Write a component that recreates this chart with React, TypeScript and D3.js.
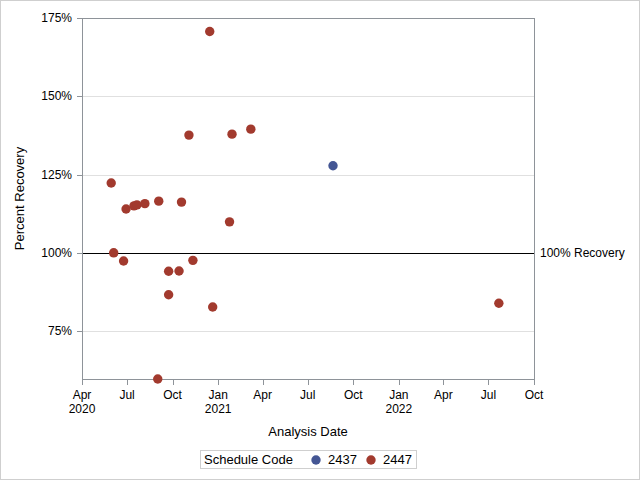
import React from "react";
import * as d3 from "d3";

const dates2447 = [
  "2020-05-30", "2020-06-04", "2020-06-24", "2020-06-29", "2020-07-15", "2020-07-21",
  "2020-08-06", "2020-09-01", "2020-09-03", "2020-09-23", "2020-09-23", "2020-10-14",
  "2020-10-19", "2020-11-03", "2020-11-11", "2020-12-15", "2020-12-21", "2021-01-24",
  "2021-01-29", "2021-03-08", "2022-07-22",
];
const values2447 = [
  122.3, 100.0, 97.4, 114.0, 115.0, 115.3,
  115.7, 59.7, 116.5, 94.1, 86.6, 94.2,
  116.2, 137.6, 97.6, 170.7, 82.7, 109.9,
  137.9, 139.5, 83.9,
];
const dates2437 = ["2021-08-21"];
const values2437 = [127.8];

const scheduleCodes = ["2437", "2447"];
const codeColors = ["#445694", "#A23A2E"];
const yTicks = [75, 100, 125, 150, 175];
const monthNames = ["Jan", "Feb", "Mar", "Apr", "May", "Jun", "Jul", "Aug", "Sep", "Oct", "Nov", "Dec"];
const refValue = 100;
const refLabel = "100% Recovery";

const W = 640, H = 480;
const L = 82, R = 534, T = 18, B = 379;
const FONT = "'Liberation Sans', Arial, sans-serif";

export default function App() {
  const parse = d3.timeParse("%Y-%m-%d");
  const series = [
    { code: scheduleCodes[0], color: codeColors[0], pts: dates2437.map((d, i) => ({ d: parse(d)!, v: values2437[i] })) },
    { code: scheduleCodes[1], color: codeColors[1], pts: dates2447.map((d, i) => ({ d: parse(d)!, v: values2447[i] })) },
  ];
  const allVals = [...values2447, ...values2437];
  const x = d3.scaleTime().domain([new Date(2020, 3, 1), new Date(2022, 9, 1)]).range([L, R]);
  const y = d3.scaleLinear().domain([d3.min(allVals)!, 175]).range([B, T]);
  const xTicks = d3.timeMonth.every(3)!.range(new Date(2020, 3, 1), new Date(2022, 9, 2));

  return (
    <svg width={W} height={H} style={{ position: "absolute", left: 0, top: 0 }} fontFamily={FONT}>
      <rect x={0.5} y={0.5} width={W - 1} height={H - 1} fill="#fff" stroke="#cfcfcf" />
      {yTicks.map((t) => (
        <line key={"g" + t} x1={L} x2={R} y1={Math.round(y(t)) + 0.5} y2={Math.round(y(t)) + 0.5} stroke="#e0e0e0" />
      ))}
      <line x1={L} x2={R} y1={Math.round(y(refValue)) + 0.5} y2={Math.round(y(refValue)) + 0.5} stroke="#000" />
      <text x={R + 6} y={y(refValue) + 4} fontSize={12} fill="#000">{refLabel}</text>
      <rect x={L + 0.5} y={T + 0.5} width={R - L} height={B - T} fill="none" stroke="#8e9399" />
      {yTicks.map((t) => (
        <g key={"y" + t}>
          <line x1={L - 5} x2={L} y1={Math.round(y(t)) + 0.5} y2={Math.round(y(t)) + 0.5} stroke="#8e9399" />
          <text x={L - 10} y={y(t) + 4} fontSize={12} textAnchor="end" fill="#000">{t}%</text>
        </g>
      ))}
      {xTicks.map((t, i) => (
        <g key={"x" + i}>
          <line x1={Math.round(x(t)) + 0.5} x2={Math.round(x(t)) + 0.5} y1={B} y2={B + 6} stroke="#8e9399" />
          <text x={x(t)} y={399} fontSize={12} textAnchor="middle" fill="#000">{monthNames[t.getMonth()]}</text>
          {(i === 0 || t.getMonth() === 0) && (
            <text x={x(t)} y={413} fontSize={12} textAnchor="middle" fill="#000">{t.getFullYear()}</text>
          )}
        </g>
      ))}
      <text x={(L + R) / 2} y={436} fontSize={13} textAnchor="middle" fill="#000">Analysis Date</text>
      <text transform={`translate(24,${(T + B) / 2}) rotate(-90)`} fontSize={13} textAnchor="middle" fill="#000">Percent Recovery</text>
      {series.map((s) =>
        s.pts.map((p, i) => (
          <circle key={s.code + i} cx={x(p.d)} cy={y(p.v)} r={4.7} fill={s.color} />
        ))
      )}
      <rect x={200.5} y={450.5} width={216} height={18} fill="#fff" stroke="#cfcfcf" />
      <text x={204} y={464} fontSize={13} fill="#000">Schedule Code</text>
      {series.map((s, i) => (
        <g key={"lg" + s.code}>
          <circle cx={316 + i * 55} cy={460} r={4.7} fill={s.color} />
          <text x={328 + i * 55} y={464} fontSize={13} fill="#000">{s.code}</text>
        </g>
      ))}
    </svg>
  );
}
